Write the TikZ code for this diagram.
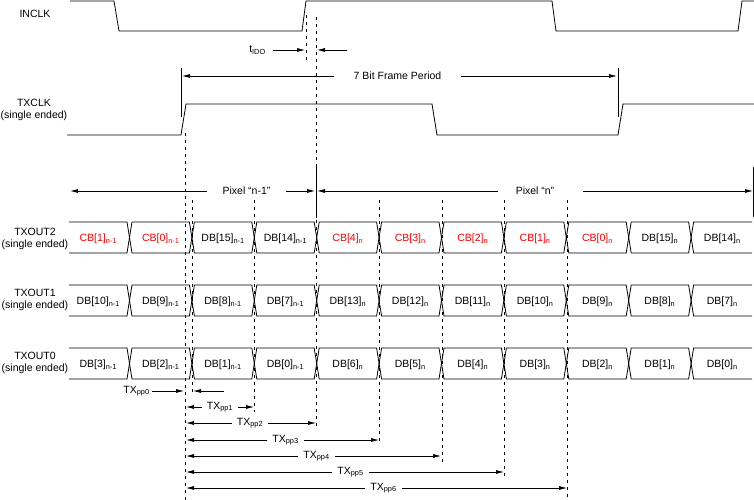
\documentclass[tikz,border=0pt]{standalone}
\usepackage{fontspec}
\setmainfont{Liberation Sans}
\usetikzlibrary{arrows.meta}

\newcommand\sbs[1]{\textsubscript{#1}}
\newcommand\cb[1]{\textcolor{red}{#1}}

\tikzset{
  wave/.style={line width=0.8bp},
  guide/.style={line width=0.7bp, dash pattern=on 3bp off 4bp},
  dim/.style={line width=0.7bp, -{Latex[length=8bp,width=4bp]}},
  txt/.style={font=\fontsize{10.5bp}{12bp}\selectfont, inner sep=0pt},
  sig/.style={txt, align=center},
  cell/.style={txt, anchor=base},
  spaced/.style={txt, inner xsep=#1},
}

\begin{document}
\begin{tikzpicture}[x=1bp,y=-1bp]
\useasboundingbox (0,0) rectangle (754,500);

% signal names
\node[sig] (inclk) at (35,14) {INCLK};
\node[sig] (txclk) at (34,110) {TXCLK\\(single ended)};
\node[sig] (out2) at (35,239) {TXOUT2\\(single ended)};
\node[sig] (out1) at (35,300) {TXOUT1\\(single ended)};
\node[sig] (out0) at (35,363) {TXOUT0\\(single ended)};

% clocks
\draw[wave] (70,1) -- (114,1) -- (119,31) -- (302,31) -- (306,1) -- (552,1) -- (556,31) -- (738,31) -- (742,1) -- (754,1);
\draw[wave] (67,135) -- (181,135) -- (186,104) -- (432,104) -- (437,135) -- (618,135) -- (623,104) -- (754,104);

% guides and markers
\draw[guide] (306,15) -- (306,62);
\foreach \x/\ya/\yb in {185/133/500, 192/200/395, 254/200/412, 316/17/428,
                        379/200/445, 442/200/462, 504/200/480, 567/200/500}
  \draw[guide] (\x,\ya) -- (\x,\yb);
\draw[wave] (181,68) -- (181,117) (618,68) -- (618,117)
            (316,167) -- (316,218) (753,167) -- (753,217);

% data lanes
\foreach \yt in {222,285,348} {
  \draw[wave] (69,\yt) -- (127,\yt) -- (129.5,\yt+15.5) -- (127,\yt+31) -- (69,\yt+31);
  \foreach \k in {1,...,9} {
    \pgfmathsetmacro\xl{67.1+62.4*\k}
    \pgfmathsetmacro\xr{\xl+62.4}
    \draw[wave] (\xl+2.5,\yt) -- (\xr-2.5,\yt) -- (\xr,\yt+15.5) -- (\xr-2.5,\yt+31)
      -- (\xl+2.5,\yt+31) -- (\xl,\yt+15.5) -- cycle;
  }
  \draw[wave] (752,\yt) -- (693.6,\yt) -- (691.1,\yt+15.5) -- (693.6,\yt+31) -- (752,\yt+31);
}

\foreach \t [count=\k from 0] in {\cb{CB[1]\sbs{n-1}}, \cb{CB[0]\sbs{n-1}}, DB[15]\sbs{n-1}, DB[14]\sbs{n-1},
    \cb{CB[4]\sbs{n}}, \cb{CB[3]\sbs{n}}, \cb{CB[2]\sbs{n}}, \cb{CB[1]\sbs{n}}, \cb{CB[0]\sbs{n}},
    DB[15]\sbs{n}, DB[14]\sbs{n}}
  \node[cell] (c2-\k) at (98.3+62.4*\k,241.5) {\t};
\foreach \t [count=\k from 0] in {DB[10]\sbs{n-1}, DB[9]\sbs{n-1}, DB[8]\sbs{n-1}, DB[7]\sbs{n-1},
    DB[13]\sbs{n}, DB[12]\sbs{n}, DB[11]\sbs{n}, DB[10]\sbs{n}, DB[9]\sbs{n}, DB[8]\sbs{n}, DB[7]\sbs{n}}
  \node[cell] (c1-\k) at (98.3+62.4*\k,304.5) {\t};
\foreach \t [count=\k from 0] in {DB[3]\sbs{n-1}, DB[2]\sbs{n-1}, DB[1]\sbs{n-1}, DB[0]\sbs{n-1},
    DB[6]\sbs{n}, DB[5]\sbs{n}, DB[4]\sbs{n}, DB[3]\sbs{n}, DB[2]\sbs{n}, DB[1]\sbs{n}, DB[0]\sbs{n}}
  \node[cell] (c0-\k) at (98.3+62.4*\k,367.5) {\t};

% timing labels
\node[spaced=7bp] (tido) at (257.5,50) {t\sbs{IDO}};
\coordinate (tidoa) at (305,50);
\coordinate (tidob) at (347,50);
\coordinate (tidoc) at (317,50);
\draw[dim] (tido) -- (tidoa);
\draw[dim] (tidob) -- (tidoc);

\node[spaced=19.5bp] (frame) at (397.5,76) {7 Bit Frame Period};
\coordinate (framea) at (182,76);
\coordinate (frameb) at (617,76);
\draw[dim] (frame) -- (framea);
\draw[dim] (frame) -- (frameb);

\node[spaced=15bp] (pixa) at (246.5,191) {Pixel “n-1”};
\coordinate (pixaa) at (70,191);
\coordinate (pixab) at (315,191);
\draw[dim] (pixa) -- (pixaa);
\draw[dim] (pixa) -- (pixab);

\node[spaced=18bp] (pixb) at (535,191) {Pixel “n”};
\coordinate (pixba) at (317,191);
\coordinate (pixbb) at (753,191);
\coordinate (pixbc) at (583,191);
\draw[dim] (pixb) -- (pixba);
\draw[dim] (pixbc) -- (pixbb);

\node[spaced=2bp] (pp0) at (136.5,391) {TX\sbs{pp0}};
\coordinate (pp0a) at (184,391);
\coordinate (pp0b) at (224,391);
\coordinate (pp0c) at (193,391);
\draw[dim] (pp0) -- (pp0a);
\draw[dim] (pp0b) -- (pp0c);

\foreach \i/\xt/\xe/\y in {1/220/254/407, 2/250/316/423, 3/285.5/379/440,
                          4/316.5/441/456, 5/350.5/504/472, 6/383.5/567/488} {
  \node[spaced=5bp] (pp\i) at (\xt,\y) {TX\sbs{pp\i}};
  \coordinate (pp\i a) at (186,\y);
  \coordinate (pp\i b) at (\xe,\y);
  \draw[dim] (pp\i) -- (pp\i a);
  \draw[dim] (pp\i) -- (pp\i b);
}
\end{tikzpicture}
\end{document}
